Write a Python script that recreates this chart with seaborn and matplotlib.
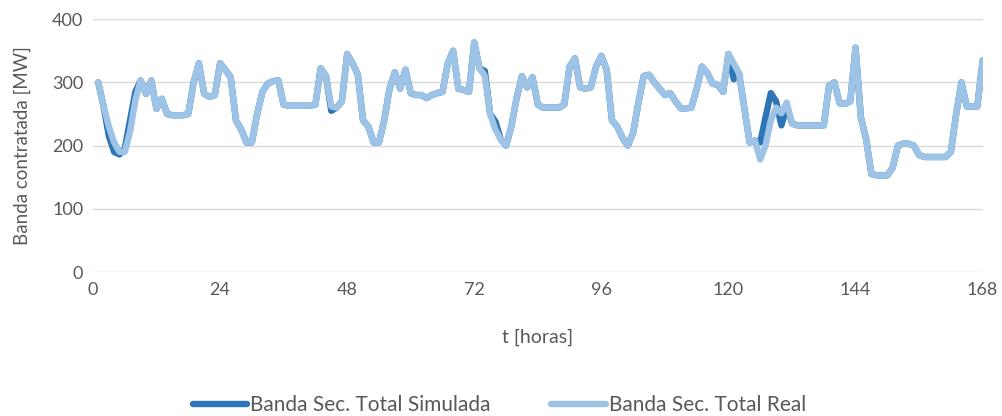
import numpy as np
import pandas as pd
import matplotlib
matplotlib.use("Agg")
import matplotlib.pyplot as plt
import seaborn as sns

horas = list(range(1, 169))

real = [
    300, 262, 230, 205, 190, 190, 222, 272, 303, 282,   # 1-10
    303, 258, 274, 250, 248, 248, 248, 250, 300, 330,   # 11-20
    282, 277, 280, 330, 320, 308, 240, 225, 205, 205,   # 21-30
    250, 285, 298, 302, 303, 265, 263, 263, 263, 263,   # 31-40
    263, 265, 322, 310, 262, 260, 270, 345, 330, 313,   # 41-50
    240, 230, 205, 205, 240, 290, 316, 290, 320, 283,   # 51-60
    280, 280, 275, 280, 283, 285, 330, 350, 290, 288,   # 61-70
    285, 363, 322, 310, 250, 225, 210, 200, 230, 275,   # 71-80
    310, 292, 308, 265, 260, 260, 260, 260, 265, 325,   # 81-90
    338, 292, 290, 292, 325, 342, 320, 240, 230, 212,   # 91-100
    200, 220, 268, 310, 312, 300, 290, 280, 283, 270,   # 101-110
    259, 259, 260, 290, 325, 315, 298, 296, 285, 345,   # 111-120
    330, 314, 260, 205, 208, 178, 200, 240, 260, 251,   # 121-130
    268, 235, 232, 232, 232, 232, 232, 232, 295, 300,   # 131-140
    267, 266, 270, 355, 245, 210, 155, 153, 153, 153,   # 141-150
    165, 200, 203, 203, 200, 185, 182, 182, 182, 182,   # 151-160
    182, 190, 250, 300, 262, 262, 262, 335,             # 161-168
]

simulada = list(real)
sim_diff = {3: 215, 4: 190, 5: 186, 6: 195, 7: 240, 8: 285,
            45: 255, 74: 318, 76: 238,
            121: 305, 124: 205, 125: 208, 126: 205, 127: 245,
            128: 283, 129: 270, 130: 232, 131: 262, 132: 235}
for h, v in sim_diff.items():
    simulada[h - 1] = v

nombres = ["Banda Sec. Total Simulada", "Banda Sec. Total Real"]
colores = ["#2E75B6", "#9DC3E6"]
x_ticks = [0, 24, 48, 72, 96, 120, 144, 168]
y_ticks = [0, 100, 200, 300, 400]

df = pd.DataFrame({
    "t": horas * 2,
    "MW": simulada + real,
    "serie": [nombres[0]] * len(horas) + [nombres[1]] * len(horas),
})

sns.set_theme(style="white")
plt.rcParams["font.family"] = ["Lato", "DejaVu Sans"]
txt = "#595959"

fig = plt.figure(figsize=(10.03, 4.16), dpi=100)
ax = fig.add_axes([0.0927, 0.346, 0.887, 0.608])

sns.lineplot(data=df, x="t", y="MW", hue="serie", palette=colores,
             hue_order=nombres, linewidth=4.6, ax=ax,
             solid_joinstyle="round", solid_capstyle="round")

ax.set_xlim(0, 168)
ax.set_ylim(0, 400)
ax.set_xticks(x_ticks)
ax.set_yticks(y_ticks)
ax.yaxis.grid(True, color="#D9D9D9", linewidth=1.0)
ax.set_axisbelow(True)
for s in ax.spines.values():
    s.set_visible(False)
ax.tick_params(axis="both", labelsize=13, colors=txt, length=0, pad=7)
ax.set_xlabel("t [horas]", fontsize=14, color=txt, labelpad=22)
ax.set_ylabel("Banda contratada [MW]", fontsize=13.5, color=txt, labelpad=15)

leg = ax.legend(loc="center", bbox_to_anchor=(0.457, -0.526), ncol=2,
                frameon=False, fontsize=15, handlelength=2.6,
                columnspacing=2.9, handletextpad=0.15)
for line in leg.get_lines():
    line.set_linewidth(4.6)
    line.set_solid_capstyle("round")
for t in leg.get_texts():
    t.set_color(txt)

fig.savefig("out.png", dpi=100)
